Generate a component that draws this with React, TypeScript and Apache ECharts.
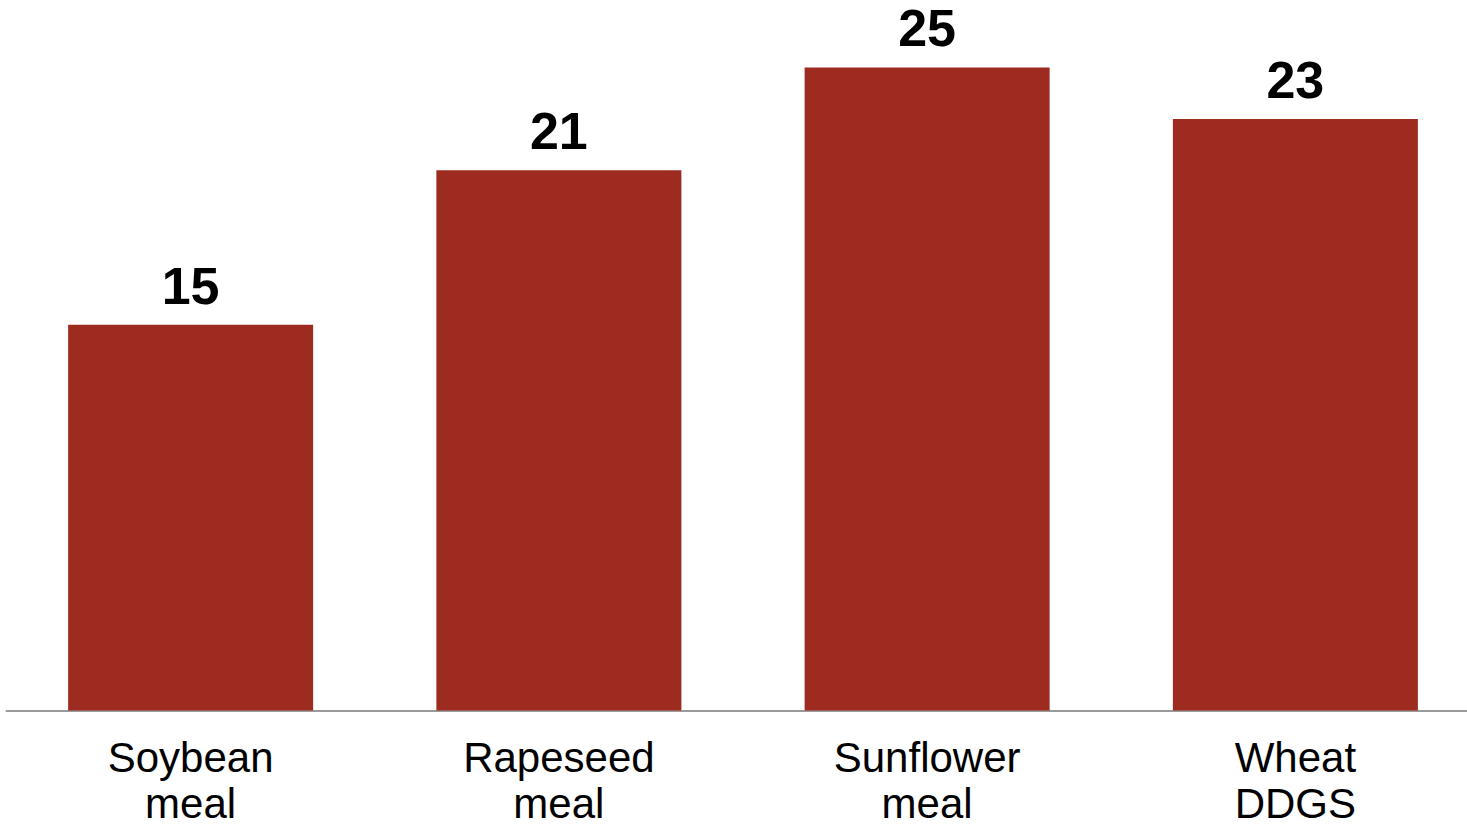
import React, { useEffect, useRef } from "react";
import * as echarts from "echarts";

// Feed ingredients and their values
const categories: string[] = ["Soybean\nmeal", "Rapeseed\nmeal", "Sunflower\nmeal", "Wheat\nDDGS"];
const values: number[] = [15, 21, 25, 23];

const BAR_COLOR = "#9E2B20";
const FONT = "'Liberation Sans', Arial, Helvetica, sans-serif";

export default function App() {
  const ref = useRef<HTMLDivElement | null>(null);

  useEffect(() => {
    if (!ref.current) return;
    const chart = echarts.init(ref.current, undefined, { renderer: "svg" });
    chart.setOption({
      animation: false,
      backgroundColor: "#ffffff",
      grid: {
        left: 6.5,
        right: -12.5,
        top: 16,
        bottom: 118.5,
        containLabel: false,
        outerBoundsMode: "none",
      },
      xAxis: {
        type: "category",
        data: categories,
        axisLine: { show: true, lineStyle: { color: "#9a9a9a", width: 2 } },
        axisTick: { show: false },
        axisLabel: {
          interval: 0,
          margin: 24,
          color: "#000000",
          fontFamily: FONT,
          fontSize: 42,
          lineHeight: 46,
        },
      },
      yAxis: {
        type: "value",
        min: 0,
        max: 27,
        show: false,
        splitLine: { show: false },
      },
      series: [
        {
          type: "bar",
          data: values,
          barWidth: 245,
          itemStyle: { color: BAR_COLOR },
          label: {
            show: true,
            position: "top",
            distance: 13,
            color: "#000000",
            fontFamily: FONT,
            fontWeight: "bold",
            fontSize: 52,
          },
        },
      ],
    });
    return () => chart.dispose();
  }, []);

  return (
    <div
      ref={ref}
      style={{ position: "absolute", left: 0, top: 0, width: 1467, height: 829, overflow: "hidden" }}
    />
  );
}
